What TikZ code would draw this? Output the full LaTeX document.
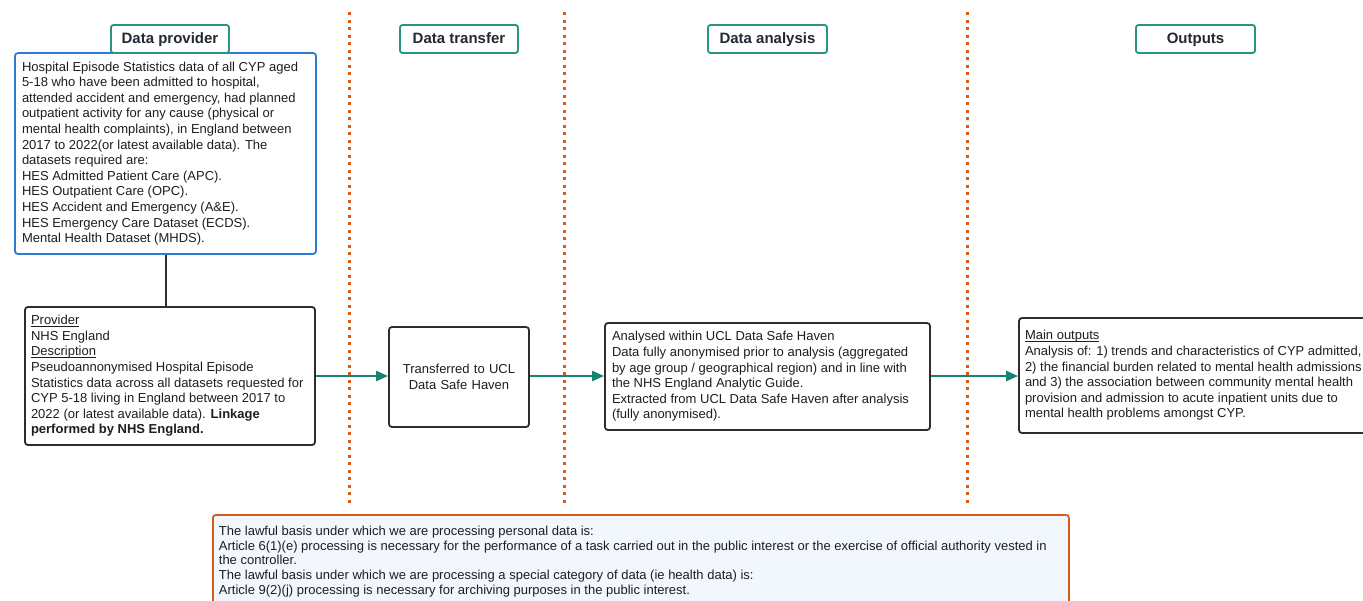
\documentclass[tikz,border=0pt]{standalone}
\usepackage{fontspec}
\setmainfont{Liberation Sans}
\usetikzlibrary{arrows.meta}
\definecolor{hdrteal}{RGB}{38,150,128}
\definecolor{arrowteal}{RGB}{22,130,112}
\definecolor{orng}{RGB}{214,92,24}
\definecolor{bluebd}{RGB}{44,124,210}
\definecolor{lightfill}{RGB}{241,247,253}
\definecolor{darkbd}{RGB}{45,45,45}
\definecolor{txt}{RGB}{30,30,30}
\definecolor{hdrtxt}{RGB}{35,40,50}
\newcommand{\myul}[1]{\underline{\smash{#1}}\vphantom{#1}}
\begin{document}
\begin{tikzpicture}[x=1pt,y=-1pt,
  hdr/.style={draw=hdrteal, line width=1.8pt, rounded corners=2.5pt, fill=white, minimum height=28pt, inner sep=0pt, text height=11pt, text depth=3pt, font=\fontsize{15}{18}\selectfont\bfseries, text=hdrtxt},
  box/.style={draw=darkbd, line width=1.8pt, rounded corners=3pt, fill=white, inner xsep=6pt, inner ysep=0pt, font=\fontsize{13}{15.6}\selectfont, text=txt, align=flush left},
  flow/.style={draw=arrowteal, line width=2.4pt, -{Triangle[length=12pt,width=10pt]}},
  conn/.style={draw=darkbd, line width=2pt},
  sep/.style={draw=orng, line width=3pt, dash pattern=on 3pt off 4.5pt},
  legal/.style={draw=orng, line width=1.8pt, rounded corners=3pt, fill=lightfill, inner xsep=6pt, inner ysep=11pt, font=\fontsize{13}{14.8}\selectfont, text=txt, align=flush left, text width=844pt},
]
\useasboundingbox (0,0) rectangle (1363,600);

% separators
\coordinate (s1t) at (349,12);  \coordinate (s1b) at (349,505);
\coordinate (s2t) at (564,12);  \coordinate (s2b) at (564,505);
\coordinate (s3t) at (967,12);  \coordinate (s3b) at (967,505);
\draw[sep] (s1t) -- (s1b);
\draw[sep] (s2t) -- (s2b);
\draw[sep] (s3t) -- (s3b);

% data provider source box
\node[box, draw=bluebd, inner xsep=7pt, text width=287pt, minimum height=201pt] (hes) at (165.5,153.5)
 {Hospital Episode Statistics data of all CYP aged\\
  5-18 who have been admitted to hospital,\\
  attended accident and emergency, had planned\\
  outpatient activity for any cause (physical or\\
  mental health complaints), in England between\\
  2017 to 2022(or latest available data). The\\
  datasets required are:\\
  HES Admitted Patient Care (APC).\\
  HES Outpatient Care (OPC).\\
  HES Accident and Emergency (A\&E).\\
  HES Emergency Care Dataset (ECDS).\\
  Mental Health Dataset (MHDS).};

% headers
\node[hdr, minimum width=118pt] (hprov) at (170,39) {Data provider};
\node[hdr, minimum width=118pt] (htrans) at (459,39) {Data transfer};
\node[hdr, minimum width=119pt] (hanal) at (767.5,39) {Data analysis};
\node[hdr, minimum width=119pt] (hout) at (1195.5,39) {Outputs};

% provider box
\node[box, text width=278pt, minimum height=138pt] (prov) at (170,376)
 {\myul{Provider}\\
  NHS England\\
  \myul{Description}\\
  Pseudoannonymised Hospital Episode\\
  Statistics data across all datasets requested for\\
  CYP 5-18 living in England between 2017 to\\
  2022 (or latest available data). \textbf{Linkage}\\
  \textbf{performed by NHS England.}};

% transfer box
\node[box, align=center, text width=128pt, minimum height=100pt] (trans) at (459,377)
 {Transferred to UCL\\ Data Safe Haven};

% analysis box
\node[box, inner xsep=7pt, text width=311pt, minimum height=107pt] (anal) at (767.5,376.5)
 {Analysed within UCL Data Safe Haven\\
  Data fully anonymised prior to analysis (aggregated\\
  by age group / geographical region) and in line with\\
  the NHS England Analytic Guide.\\
  Extracted from UCL Data Safe Haven after analysis\\
  (fully anonymised).};

% outputs box
\node[box, text width=368pt, minimum height=115pt] (outp) at (1209,375.5)
 {\myul{Main outputs}\\
  Analysis of: 1) trends and characteristics of CYP admitted,\\
  2) the financial burden related to mental health admissions\\
  and 3) the association between community mental health\\
  provision and admission to acute inpatient units due to\\
  mental health problems amongst CYP.};

% legal box
\node[legal, anchor=north west] (law) at (212,514)
 {The lawful basis under which we are processing personal data is:\\
  Article 6(1)(e) processing is necessary for the performance of a task carried out in the public interest or the exercise of official authority vested in\\
  the controller.\\
  The lawful basis under which we are processing a special category of data (ie health data) is:\\
  Article 9(2)(j) processing is necessary for archiving purposes in the public interest.};

% connectors
\draw[conn] (hes.south) -- (hes.south |- prov.north);
\draw[flow] (prov.east) -- (prov.east -| trans.west);
\draw[flow] (trans.east |- prov.east) -- (prov.east -| anal.west);
\draw[flow] (anal.east |- prov.east) -- (prov.east -| outp.west);
\end{tikzpicture}
\end{document}
